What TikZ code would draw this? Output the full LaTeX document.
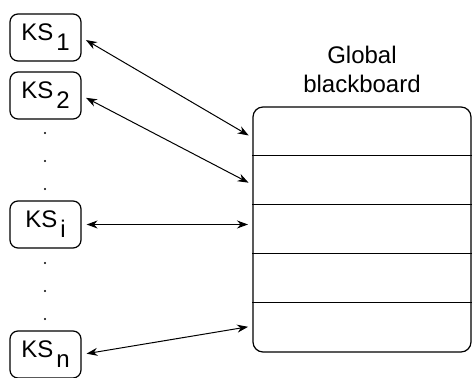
\documentclass[tikz,border=0pt]{standalone}
\usepackage{fontspec}
\setmainfont{Liberation Sans}
\usetikzlibrary{arrows.meta,positioning}
\newcommand{\kslabel}[1]{KS\kern1.5pt\raisebox{-5pt}{#1}}

\begin{document}
\begin{tikzpicture}[x=0.5pt,y=-0.5pt,
    ks/.style={rectangle,draw,rounded corners=4pt,minimum width=35.5pt,minimum height=23.5pt,inner sep=0pt,font=\fontsize{12}{13}\selectfont,line width=0.6pt},
    board/.style={rectangle,draw,rounded corners=5pt,minimum width=109pt,minimum height=122.5pt,inner sep=0pt,line width=0.6pt},
    arrow/.style={{Stealth[length=5.5pt,width=4pt]}-{Stealth[length=5.5pt,width=4pt]},line width=0.5pt,shorten <=2.5pt,shorten >=2.5pt}]
  \useasboundingbox (0,0) rectangle (473,378);
  % knowledge sources
  \node[ks] (ks1) at (45.5,37.5) {\kslabel{1}};
  \node[ks] (ks2) at (45.5,95.5) {\kslabel{2}};
  \node[ks] (ksi) at (45.5,224.5) {\kslabel{i}};
  \node[ks] (ksn) at (45.5,354.5) {\kslabel{n}};
  \foreach \y in {133,161,189,263,291,319}
    \fill (45,\y) circle (0.6pt);
  % blackboard
  \node[board] (bb) at (362,229.5) {};
  \node[above=6.5pt of bb,inner sep=0pt,align=center,font=\fontsize{12}{14.5}\selectfont] (title) {Global\\blackboard};
  \foreach \i in {1,...,4}
    \draw[line width=0.6pt] ([yshift=-\i*24.5pt]bb.north west) -- ([yshift=-\i*24.5pt]bb.north east);
  \coordinate (t1) at (253,138);
  \coordinate (t2) at (253,185);
  \coordinate (ti) at (253,224.5);
  \coordinate (tn) at (253,326);
  \draw[arrow] (ks1.east) -- (t1);
  \draw[arrow] (ks2.east) -- (t2);
  \draw[arrow] (ksi.east) -- (ti);
  \draw[arrow] (ksn.east) -- (tn);
\end{tikzpicture}
\end{document}
